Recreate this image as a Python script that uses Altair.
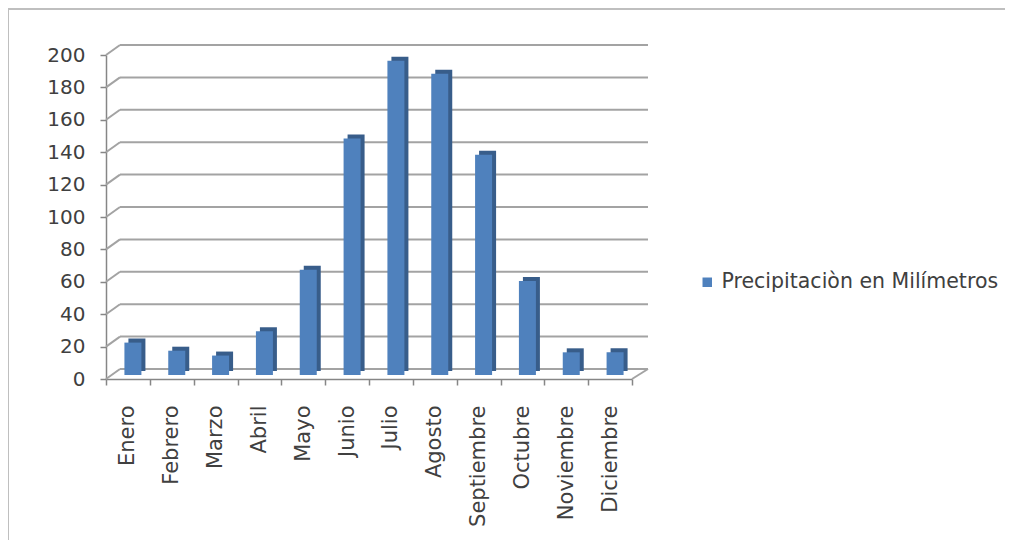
import altair as alt
import pandas as pd

months = ["Enero", "Febrero", "Marzo", "Abril", "Mayo", "Junio", "Julio",
          "Agosto", "Septiembre", "Octubre", "Noviembre", "Diciembre"]
values = [20, 15, 12, 27, 65, 146, 194, 186, 136, 58, 14, 14]
series_name = "Precipitaciòn en Milímetros"
y_ticks = [0, 20, 40, 60, 80, 100, 120, 140, 160, 180, 200]

df = pd.DataFrame({"mes": months, "valor": values, "serie": series_name})
grid_df = pd.DataFrame({"v": y_ticks})
floor_df = pd.DataFrame({"v": [0]})

FONT = "DejaVu Sans"
W, H = 526, 324
DEPTH_X, DEPTH_Y = 14, 10

xscale = alt.Scale(domain=months, paddingInner=0, paddingOuter=0)
yscale = alt.Scale(domain=[0, 200], nice=False, zero=True)

x_axis = alt.Axis(title=None, labelAngle=-90, labelAlign="right",
                  labelBaseline="middle", labelPadding=20,
                  tickBand="extent", tickSize=6, labelFontSize=21,
                  labelOverlap=False, labelLimit=0)
y_axis = alt.Axis(title=None, values=y_ticks, grid=False, tickSize=6,
                  labelPadding=15, labelFontSize=20,
                  labelOverlap=False, labelBound=False)

grid_color = "#a3a3a3"

back_grid = alt.Chart(grid_df).mark_rule(
    color=grid_color, strokeWidth=2, yOffset=-DEPTH_Y
).encode(
    y=alt.Y("v:Q", scale=yscale, axis=y_axis),
    x=alt.value(DEPTH_X),
    x2=alt.value(W + DEPTH_X + 2),
)

diag = alt.Chart(grid_df).mark_rule(
    color=grid_color, strokeWidth=2, y2Offset=-DEPTH_Y
).encode(
    y=alt.Y("v:Q", scale=yscale, axis=y_axis),
    y2="v:Q",
    x=alt.value(0),
    x2=alt.value(DEPTH_X),
)

floor_right = alt.Chart(floor_df).mark_rule(
    color=grid_color, strokeWidth=2, y2Offset=-DEPTH_Y
).encode(
    y=alt.Y("v:Q", scale=yscale, axis=y_axis),
    y2="v:Q",
    x=alt.value(W),
    x2=alt.value(W + DEPTH_X + 2),
)

frame_left = alt.Chart(floor_df).mark_rule(color="#bfbfbf", strokeWidth=2).encode(
    x=alt.value(-98), y=alt.value(-46), y2=alt.value(500)
)
frame_top = alt.Chart(floor_df).mark_rule(color="#bfbfbf", strokeWidth=2).encode(
    x=alt.value(-98), x2=alt.value(910), y=alt.value(-46)
)

side = alt.Chart(df).mark_bar(
    width=17, color="#385d8a", xOffset=9, yOffset=-8
).encode(
    x=alt.X("mes:N", scale=xscale, sort=months, axis=x_axis),
    y=alt.Y("valor:Q", scale=yscale, axis=y_axis),
)

front = alt.Chart(df).mark_bar(
    width=17, xOffset=5, yOffset=-4
).encode(
    x=alt.X("mes:N", scale=xscale, sort=months, axis=x_axis),
    y=alt.Y("valor:Q", scale=yscale, axis=y_axis),
    color=alt.Color("serie:N", scale=alt.Scale(range=["#4f81bd"]),
                    legend=alt.Legend(title=None, orient="none", legendX=591,
                                      legendY=217, symbolType="square",
                                      symbolSize=90, labelFontSize=20.5,
                                      labelColor="#404040", labelFont=FONT,
                                      labelLimit=0, symbolStrokeWidth=0)),
)

chart = alt.layer(
    frame_left, frame_top, back_grid, diag, floor_right, side, front
).properties(
    width=W, height=H,
    padding={"left": 98, "top": 47, "right": 373, "bottom": 161},
    autosize=alt.AutoSizeParams(type="none"),
    background="white",
).configure_view(
    stroke=None
).configure_axis(
    domainColor="#868686", domainWidth=1.5, tickColor="#868686", tickWidth=1.5,
    labelColor="#404040", labelFont=FONT, labelOverlap=False,
)

chart.save("out.html", embed_options={"renderer": "svg", "actions": False})
